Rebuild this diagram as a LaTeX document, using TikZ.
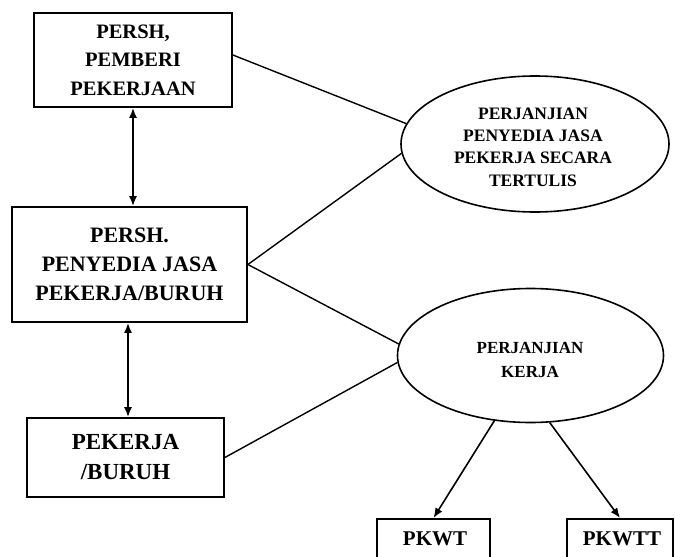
\documentclass[tikz,border=0pt]{standalone}
\usepackage{fontspec}
\setmainfont{Liberation Serif}
\usetikzlibrary{shapes.geometric,arrows.meta}
\begin{document}
\begin{tikzpicture}[x=1pt,y=-1pt,
  box/.style={draw,line width=1.8pt,inner sep=0pt,align=center,font=\bfseries},
  oval/.style={draw,ellipse,line width=1.6pt,inner sep=0pt},
  lbl/.style={align=center,inner sep=0pt},
  link/.style={line width=1.4pt},
  dbl/.style={line width=1.6pt,{Latex[length=10pt,width=8pt]}-{Latex[length=10pt,width=8pt]}},
  one/.style={line width=1.6pt,-{Latex[length=10pt,width=8pt]}}]
\useasboundingbox (0,0) rectangle (675,557);
\clip (0,0) rectangle (675,557);
\node[box,minimum width=198pt,minimum height=94pt,font=\bfseries\fontsize{20.5}{28.5}\selectfont] (b1) at (133,60) {PERSH,\\PEMBERI\\PEKERJAAN};
\node[box,minimum width=235pt,minimum height=115pt,font=\bfseries\fontsize{22}{29}\selectfont] (b2) at (129.5,264.5) {PERSH.\\PENYEDIA JASA\\PEKERJA/BURUH};
\node[box,minimum width=197pt,minimum height=79pt,font=\bfseries\fontsize{23}{30}\selectfont] (b3) at (125.5,457.5) {PEKERJA\\/BURUH};
\node[oval,minimum width=268pt,minimum height=136pt] (e1) at (535,144) {};
\node[lbl,font=\bfseries\fontsize{17.5}{22.3}\selectfont] (t0) at (533,147) {PERJANJIAN\\PENYEDIA JASA\\PEKERJA SECARA\\TERTULIS};
\node[oval,minimum width=266pt,minimum height=134pt] (e2) at (530.5,355.5) {};
\node[lbl,font=\bfseries\fontsize{17}{24}\selectfont] (t3) at (530,360) {PERJANJIAN\\KERJA};
\node[box,minimum width=113pt,minimum height=60pt,anchor=north] (p1) at (433.5,518) {};
\node[lbl,font=\bfseries\fontsize{21}{24}\selectfont] (t1) at (435,539) {PKWT};
\node[box,minimum width=106pt,minimum height=60pt,anchor=north] (p2) at (620,518) {};
\node[lbl,font=\bfseries\fontsize{21}{24}\selectfont] (t2) at (622,539) {PKWTT};
\draw[dbl] (b1.south -| 133,0) -- (b2.north -| 133,0);
\draw[dbl] (b2.south -| 128,0) -- (b3.north -| 128,0);
\draw[link] ([yshift=5pt]b1.east) -- (e1.171);
\draw[link] (b2.east) -- (e1.184);
\draw[link] (b2.east) -- (e2.175);
\draw[link] (b3.east) -- (e2.183);
\draw[one] (e2.241) -- (p1.north);
\draw[one] (e2.286) -- (p2.north);
\end{tikzpicture}
\end{document}
